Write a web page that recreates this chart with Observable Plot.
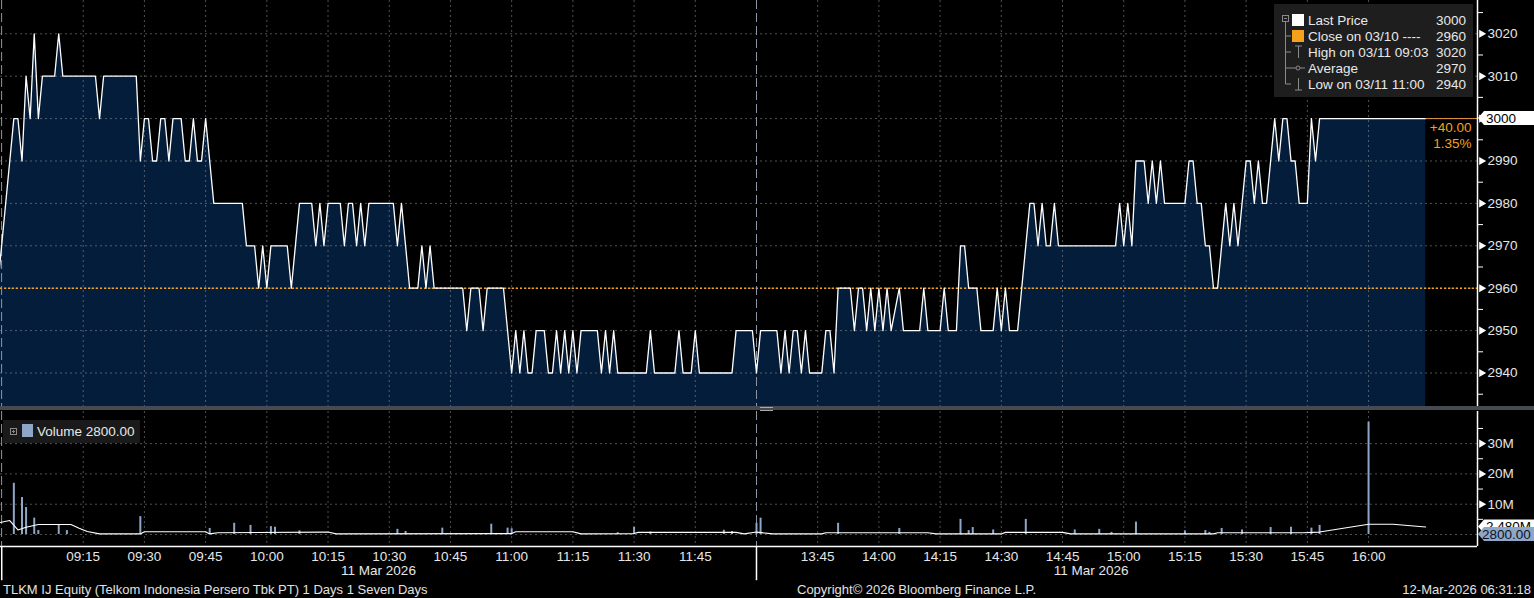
<!DOCTYPE html>
<html><head><meta charset="utf-8">
<script src="https://cdn.jsdelivr.net/npm/d3@7"></script>
<script src="https://cdn.jsdelivr.net/npm/@observablehq/plot@0.6"></script>
<style>
html,body{margin:0;padding:0;background:#000;}
#wrap{position:relative;width:1534px;height:598px;overflow:hidden;background:#000;font-family:'Liberation Sans',Arial,sans-serif;color:#e4e4e4;}
#price{position:absolute;left:0;top:0;}
#sep{position:absolute;left:0;top:406px;width:1534px;height:4px;background:#474a50;}
#grip{position:absolute;left:760px;top:407px;width:13px;height:2px;border-top:1px solid #aaa;border-bottom:1px solid #aaa;}
#vol{position:absolute;left:0;top:411px;}
.foot{position:absolute;top:582px;font-size:13px;white-space:nowrap;line-height:16px;color:#e2e2e2;}
</style></head>
<body><div id="wrap">
<div id="price"></div><div id="sep"></div><div id="grip"></div><div id="vol"></div>
</div>
<script>
const FONT = "'Liberation Sans', Arial, sans-serif";
const ticker = "TLKM IJ Equity (Telkom Indonesia Persero Tbk PT) 1 Days 1 Seven Days";
const copyright = "Copyright\u00a9 2026 Bloomberg Finance L.P.";
const stamp = "12-Mar-2026 06:31:18";
const dateLabel = "11 Mar 2026";
const prevCloseDate = "03/10";
const tradeDate = "03/11";
const prevClose = 2960;
const avgPrice = 2970;
const lastVolumeLabel = "2800.00";
const lastVolumeM = 0.0028;
const avgVolumeLabel = "2.480M";

const priceTimes = [
"08:54","08:58","08:59","09:00","09:01","09:02","09:03","09:04","09:05","09:08",
"09:09","09:10","09:18","09:19","09:20","09:28","09:29","09:30","09:31","09:32",
"09:33","09:34","09:35","09:36","09:37","09:39","09:40","09:41","09:42","09:43",
"09:44","09:45","09:47","09:54","09:55","09:57","09:58","09:59","10:00","10:01",
"10:05","10:06","10:08","10:11","10:12","10:13","10:14","10:15","10:18","10:19",
"10:20","10:21","10:22","10:23","10:24","10:25","10:31","10:32","10:33","10:35",
"10:37","10:38","10:39","10:40","10:41","10:48","10:49","10:50","10:52","10:53",
"10:54","10:58","11:00","11:01","11:02","11:03","11:04","11:05","11:06","11:08",
"11:09","11:10","11:11","11:12","11:13","11:14","11:15","11:16","11:17","11:21",
"11:22","11:23","11:24","11:25","11:26","11:33","11:34","11:35","11:40","11:41",
"11:42","11:44","11:45","11:46","11:54","11:55","11:59","13:30","13:31","13:35",
"13:36","13:37","13:38","13:39","13:40","13:41","13:42","13:43","13:46","13:47",
"13:48","13:49","13:50","13:53","13:54","13:55","13:56","13:57","13:58","13:59",
"14:00","14:01","14:02","14:03","14:05","14:06","14:10","14:11","14:12","14:15",
"14:16","14:17","14:19","14:20","14:21","14:22","14:24","14:25","14:28","14:29",
"14:30","14:31","14:32","14:34","14:37","14:38","14:39","14:40","14:41","14:42",
"14:43","14:44","14:58","14:59","15:00","15:01","15:02","15:03","15:05","15:06",
"15:07","15:08","15:09","15:10","15:15","15:16","15:17","15:18","15:19","15:20",
"15:21","15:22","15:23","15:25","15:26","15:27","15:28","15:30","15:31","15:32",
"15:33","15:34","15:35","15:37","15:38","15:39","15:40","15:41","15:42","15:43",
"15:45","15:46","15:47","15:48","16:14"];
const prices = [
2960,3000,3000,2990,3010,3000,3020,3000,3010,3010,
3020,3010,3010,3000,3010,3010,2990,3000,3000,2990,
2990,3000,3000,2990,3000,3000,2990,2990,3000,2990,
2990,3000,2980,2980,2970,2970,2960,2970,2960,2970,
2970,2960,2980,2980,2970,2980,2970,2980,2980,2970,
2980,2980,2970,2980,2970,2980,2980,2970,2980,2960,
2960,2970,2960,2970,2960,2960,2950,2960,2960,2950,
2960,2960,2940,2950,2940,2950,2940,2940,2950,2950,
2940,2940,2950,2940,2950,2940,2950,2940,2950,2950,
2940,2950,2940,2950,2940,2940,2950,2940,2940,2950,
2940,2940,2950,2940,2940,2950,2950,2940,2950,2950,
2940,2950,2940,2950,2950,2940,2950,2940,2940,2950,
2950,2940,2960,2960,2950,2960,2960,2950,2960,2950,
2960,2950,2960,2950,2960,2950,2950,2960,2950,2950,
2960,2950,2950,2970,2970,2960,2960,2950,2950,2960,
2950,2960,2950,2950,2980,2980,2970,2980,2970,2970,
2980,2970,2970,2980,2970,2980,2970,2990,2990,2980,
2990,2980,2990,2980,2980,2990,2990,2980,2980,2970,
2970,2960,2960,2980,2970,2980,2970,2990,2990,2980,
2990,2980,2980,3000,2990,3000,3000,2990,2990,2980,
2980,3000,2990,3000,3000];

const volTimes = ["08:58","09:00","09:01","09:03","09:04","09:09","09:11","09:29","09:46","09:52","09:56","10:01","10:02","10:08","10:32","10:34","10:43","10:55","10:59","11:00","11:26","11:30","11:34","11:52","11:54","13:30","13:31","13:50","14:05","14:20","14:22","14:23","14:28","14:36","14:48","14:54","14:57","15:03","15:15","15:20","15:21","15:24","15:29","15:36","15:41","15:46","15:48","16:00"];
const volumesM = [16.9,12.2,8.9,5.4,1.3,3.0,1.3,5.9,2.0,3.7,3.0,2.6,2.4,1.2,1.7,1.0,2.1,3.4,2.1,1.9,0.6,2.4,0.8,1.4,1.0,3.7,5.4,3.7,2.0,5.0,1.3,2.3,1.5,5.0,1.5,1.7,0.7,4.1,1.2,1.3,0.7,2.0,1.5,2.3,2.4,2.1,3.0,37.1];

const avgVolTimes = ["08:54","08:57","08:59","09:01","09:04","09:12","09:14","09:16","09:19","09:29","09:30","09:45","09:46","09:48","10:15","10:17","11:00","11:01","11:15","11:17","11:30","11:31","11:55","11:57","13:30","13:34","13:46","13:47","14:12","14:14","14:30","14:31","14:45","14:47","15:22","15:23","15:44","15:48","16:00","16:06","16:14"];
const avgVolumesM = [3.8,4.6,1.5,2.4,3.3,3.3,2.1,1.0,0.2,0.2,0.9,0.9,0.2,0.6,0.8,0.2,0.3,0.9,0.9,0.2,0.3,0.7,0.7,0.2,0.8,0.2,0.2,0.6,0.6,0.2,0.2,0.7,0.7,0.2,0.2,0.6,0.6,0.8,3.4,3.4,2.48];

const xTickLabels = ["09:15","09:30","09:45","10:00","10:15","10:30","10:45","11:00","11:15","11:30","11:45","13:45","14:00","14:15","14:30","14:45","15:00","15:15","15:30","15:45","16:00"];
const priceTicks = [2940,2950,2960,2970,2980,2990,3000,3010,3020];
const priceMinorTicks = [2935,2945,2955,2965,2975,2985,2995,3005,3015,3025];
const volTicks = [10,20,30];
const volMinorTicks = [5,15,25,35];
const volGrid = [0,10,20,30];
const sessionBreaks = ["08:55","13:30"];

// trading-minute index: morning from 09:00, lunch break removed (12:00 == 13:30)
const idx = t => { const [h, mi] = t.split(":").map(Number); const v = h*60+mi; return v <= 720 ? v - 540 : 180 + (v - 810); };

const priceData = priceTimes.map((t,i) => ({m: idx(t), p: prices[i]}));
const volData = volTimes.map((t,i) => ({m: idx(t), v: volumesM[i]}));
const avgVolData = avgVolTimes.map((t,i) => ({m: idx(t), v: avgVolumesM[i]}));
const tickIdx = xTickLabels.map(idx);
const labelOf = new Map(tickIdx.map((m,i) => [m, xTickLabels[i]]));
const breakIdx = sessionBreaks.map(idx);

const lastPrice = prices[prices.length-1];
const lastM = priceData[priceData.length-1].m;
const high = d3.max(prices), low = d3.min(prices);
const tradedFrom = priceTimes.findIndex(t => t >= "09:00");
const highTime = priceTimes[prices.findIndex((p,i) => i >= tradedFrom && p === high)];
const lowTime = priceTimes[prices.findIndex((p,i) => i >= tradedFrom && p === low)];
const change = lastPrice - prevClose;
const changeLabel = (change >= 0 ? "+" : "") + change.toFixed(2);
const pctLabel = (100*change/prevClose).toFixed(2) + "%";

const X_DOMAIN = [-5.27, 356.7];
const Y_DOMAIN = [2932.1, 3027.85];
const V_DOMAIN = [-3.96, 40.6];
const ORANGE = "#f5a11c";
const AREA = "#041d3b";
const VOLBLUE = "#8ea6c8";
const grid = {stroke: "#a0a0a0", strokeOpacity: 0.5, strokeDasharray: "2,3", strokeWidth: 1};
const sessionStyle = {stroke: "#8d97a8", strokeDasharray: "9,4", strokeWidth: 1};

function axisTag(value, label, fill, color, textDx) {
  return (index, scales, values, dims) => {
    const y = scales.y(value);
    const x0 = dims.width - dims.marginRight;
    const g = d3.create("svg:g");
    g.append("path").attr("d", `M${x0+1},${y}L${x0+7},${y-7}H${dims.width}V${y+7}H${x0+7}Z`).attr("fill", fill);
    g.append("text").attr("x", x0 + textDx).attr("y", y).attr("dy", "0.36em").attr("fill", color)
      .attr("text-anchor", "start").attr("font-size", 13.5).attr("font-family", FONT).text(label);
    return g.node();
  };
}

const common = {
  width: 1534, marginLeft: 0, marginRight: 57, marginTop: 0,
  style: {background: "transparent", color: "#e6e6e6", fontFamily: FONT, fontSize: "13.5px", overflow: "visible"},
  x: {domain: X_DOMAIN, axis: null}
};

const pricePlot = Plot.plot({
  ...common, height: 406, marginBottom: 0,
  y: {domain: Y_DOMAIN, axis: null},
  marks: [
    Plot.areaY(priceData, {x: "m", y1: Y_DOMAIN[0], y2: "p", fill: AREA, clip: true}),
    Plot.ruleX(tickIdx, grid),
    Plot.ruleY(priceTicks, grid),
    Plot.ruleY([prevClose], {stroke: ORANGE, strokeDasharray: "2,2", strokeWidth: 1.6}),
    Plot.ruleX(breakIdx, sessionStyle),
    Plot.lineY(priceData, {x: "m", y: "p", stroke: "#ffffff", strokeWidth: 1.3, clip: true}),
    Plot.ruleY([lastPrice], {x1: lastM, x2: X_DOMAIN[1], stroke: "#e89a3c", strokeWidth: 1}),
    Plot.ruleX([X_DOMAIN[1]], {stroke: "#ffffff", strokeWidth: 1.5}),
    Plot.axisY(priceMinorTicks, {anchor: "right", label: null, tickSize: 5, tickFormat: () => "", stroke: "#ffffff"}),
    Plot.axisY(priceTicks.filter(d => d !== lastPrice), {anchor: "right", label: null, tickSize: 0, tickPadding: 10, tickFormat: d => String(d), fill: "#e6e6e6", fontSize: 13.5}),
    Plot.dot(priceTicks, {x: X_DOMAIN[1], y: d => d, symbol: "triangle", r: 3, rotate: 90, fill: "#ffffff", dx: 4}),
    Plot.text([changeLabel], {x: X_DOMAIN[1], y: lastPrice, text: d => d, dx: -6, dy: 9, textAnchor: "end", fill: ORANGE, fontSize: 13.5}),
    Plot.text([pctLabel], {x: X_DOMAIN[1], y: lastPrice, text: d => d, dx: -6, dy: 25, textAnchor: "end", fill: ORANGE, fontSize: 13.5}),
    axisTag(lastPrice, String(lastPrice), "#ffffff", "#000000", 9)
  ]
});
document.getElementById("price").append(pricePlot);

const dateCenters = [(X_DOMAIN[0] + idx("13:30"))/2, (idx("13:30") + lastM)/2];
const volPlot = Plot.plot({
  ...common, height: 176, marginBottom: 41,
  y: {domain: V_DOMAIN, axis: null},
  marks: [
    Plot.ruleX(tickIdx, grid),
    Plot.ruleY(volGrid, grid),
    Plot.ruleX(breakIdx, sessionStyle),
    Plot.ruleX(volData, {x: "m", y1: 0, y2: "v", stroke: VOLBLUE, strokeWidth: 2}),
    Plot.lineY(avgVolData, {x: "m", y: "v", stroke: "#ffffff", strokeWidth: 1.1, clip: true}),
    Plot.ruleY([V_DOMAIN[0]], {stroke: "#ffffff", strokeWidth: 1.5}),
    Plot.ruleX([X_DOMAIN[1]], {stroke: "#ffffff", strokeWidth: 1.5}),
    Plot.ruleX([X_DOMAIN[0] + 0.3, idx("13:30")], {y1: V_DOMAIN[0], y2: V_DOMAIN[0] - 11.3, stroke: "#ffffff", strokeWidth: 1.5}),
    Plot.axisX(tickIdx, {anchor: "bottom", label: null, tickSize: 0, tickPadding: 5, tickFormat: d => labelOf.get(d), fill: "#e6e6e6", fontSize: 13.5}),
    Plot.text(dateCenters, {x: d => d, frameAnchor: "bottom", dy: 28, text: () => dateLabel, fill: "#e6e6e6", fontSize: 13.5}),
    Plot.axisY(volMinorTicks, {anchor: "right", label: null, tickSize: 5, tickFormat: () => "", stroke: "#ffffff"}),
    Plot.axisY(volTicks, {anchor: "right", label: null, tickSize: 0, tickPadding: 10, tickFormat: d => d + "M", fill: "#e6e6e6", fontSize: 13.5}),
    Plot.dot(volTicks, {x: X_DOMAIN[1], y: d => d, symbol: "triangle", r: 3, rotate: 90, fill: "#ffffff", dx: 4}),
    axisTag(avgVolumesM[avgVolumesM.length-1], avgVolumeLabel, "#ffffff", "#000000", 9),
    axisTag(lastVolumeM, lastVolumeLabel, VOLBLUE, "#0d1320", 5)
  ]
});
document.getElementById("vol").append(volPlot);

// legend (price)
const wrap = d3.select("#wrap");
const leg = wrap.append("svg").attr("width", 200).attr("height", 94)
  .style("position", "absolute").style("left", "1274px").style("top", "4px")
  .style("font-family", FONT).style("font-size", "13.5px");
leg.append("rect").attr("width", 199).attr("height", 93).attr("fill", "#1e1e1e");
const rows = [
  {label: "Last Price", value: lastPrice},
  {label: `Close on ${prevCloseDate} ----`, value: prevClose},
  {label: `High on ${tradeDate} ${highTime}`, value: high},
  {label: "Average", value: avgPrice},
  {label: `Low on ${tradeDate} ${lowTime}`, value: low}
];
const rowY = i => 16 + i*16;
const gray = "#8a8a8a";
leg.append("rect").attr("x", 8.5).attr("y", 11.5).attr("width", 6).attr("height", 6).attr("fill", "none").attr("stroke", gray);
leg.append("line").attr("x1", 10).attr("x2", 13).attr("y1", 14.5).attr("y2", 14.5).attr("stroke", gray);
leg.append("line").attr("x1", 11.5).attr("x2", 11.5).attr("y1", 18).attr("y2", rowY(4)).attr("stroke", gray);
for (let i = 1; i < 5; i++) leg.append("line").attr("x1", 11.5).attr("x2", 17).attr("y1", rowY(i)).attr("y2", rowY(i)).attr("stroke", gray);
leg.append("rect").attr("x", 18).attr("y", rowY(0)-6).attr("width", 12).attr("height", 12).attr("fill", "#ffffff");
leg.append("rect").attr("x", 18).attr("y", rowY(1)-6).attr("width", 12).attr("height", 12).attr("fill", ORANGE);
leg.append("path").attr("d", `M21,${rowY(2)-6}H28M24.5,${rowY(2)-6}V${rowY(2)+6}`).attr("stroke", gray).attr("fill", "none");
leg.append("path").attr("d", `M17,${rowY(3)}H31`).attr("stroke", gray);
leg.append("circle").attr("cx", 24).attr("cy", rowY(3)).attr("r", 2).attr("fill", "#1e1e1e").attr("stroke", gray);
leg.append("path").attr("d", `M24.5,${rowY(4)-6}V${rowY(4)+6}M21,${rowY(4)+6}H28`).attr("stroke", gray).attr("fill", "none");
rows.forEach((r, i) => {
  leg.append("text").attr("x", 34).attr("y", rowY(i)).attr("dy", "0.36em").attr("fill", "#e8e8e8").text(r.label);
  leg.append("text").attr("x", 192).attr("y", rowY(i)).attr("dy", "0.36em").attr("text-anchor", "end").attr("fill", "#e8e8e8").text(r.value);
});

// legend (volume)
const vleg = wrap.append("svg").attr("width", 140).attr("height", 24)
  .style("position", "absolute").style("left", "3px").style("top", "420px")
  .style("font-family", FONT).style("font-size", "13.5px");
vleg.append("rect").attr("width", 137).attr("height", 23).attr("fill", "#1a1a1a");
vleg.append("rect").attr("x", 7.5).attr("y", 8.5).attr("width", 6).attr("height", 6).attr("fill", "none").attr("stroke", gray);
vleg.append("path").attr("d", "M9,11.5H12M10.5,10V13").attr("stroke", gray);
vleg.append("rect").attr("x", 19).attr("y", 4).attr("width", 11).attr("height", 13).attr("fill", VOLBLUE);
vleg.append("text").attr("x", 34).attr("y", 11.5).attr("dy", "0.36em").attr("fill", "#e8e8e8").text("Volume " + lastVolumeLabel);

// footer
wrap.append("div").attr("class", "foot").style("left", "3px").text(ticker);
wrap.append("div").attr("class", "foot").style("left", "797px").text(copyright);
wrap.append("div").attr("class", "foot").style("right", "3px").text(stamp);
</script>
</body></html>
